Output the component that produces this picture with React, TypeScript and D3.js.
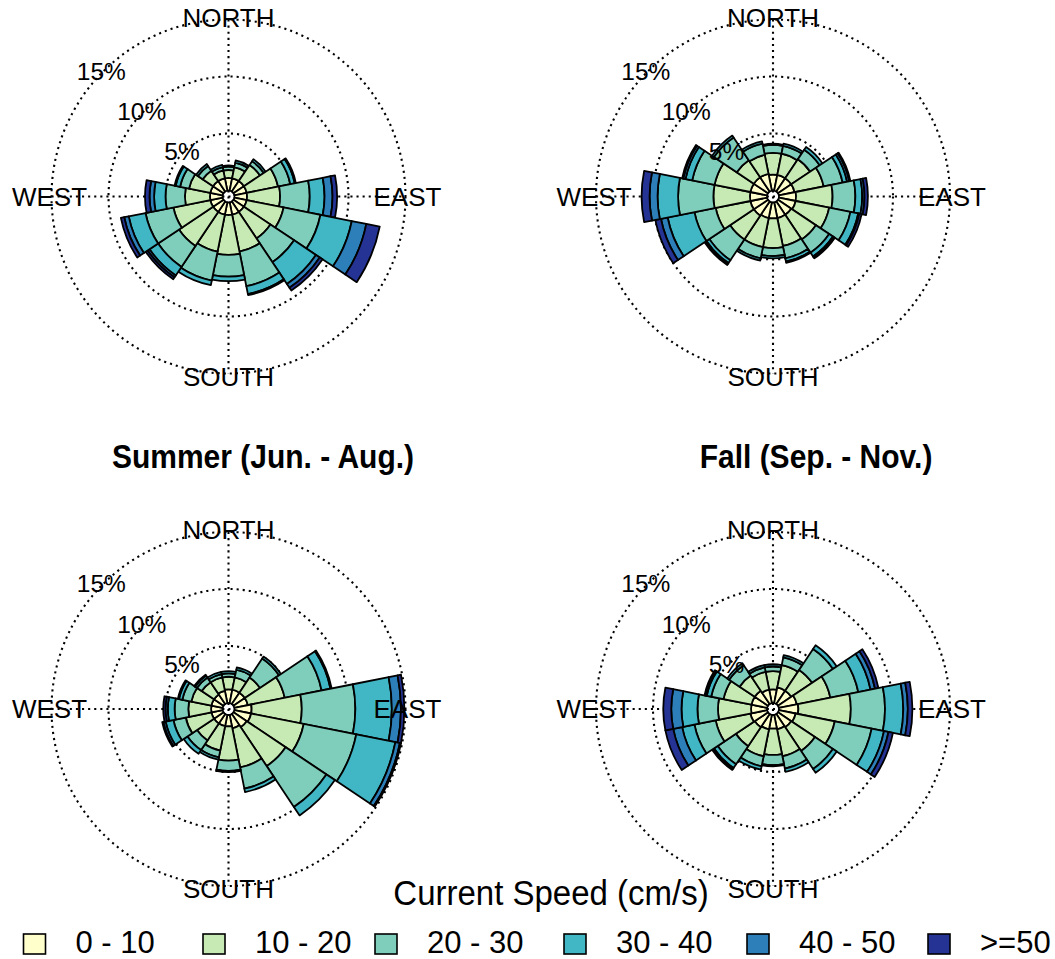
import * as d3 from "d3";

// 16 sectors, clockwise from north
const directions = [
  "N", "NNE", "NE", "ENE", "E", "ESE", "SE", "SSE",
  "S", "SSW", "SW", "WSW", "W", "WNW", "NW", "NNW",
];
const speedBins = ["0 - 10", "10 - 20", "20 - 30", "30 - 40", "40 - 50", ">=50"];
const binColors = ["#ffffcc", "#c7e9b4", "#7fcdbb", "#41b6c4", "#2c7fb8", "#253494"];
const ringTicks = [5, 10, 15];
const compassLabels = ["NORTH", "EAST", "SOUTH", "WEST"];

// frequency (%) per direction, one value per speed bin
const winterFreq = [
  [1.1, 0.7, 0.3, 0.1, 0, 0],
  [1.1, 1.0, 0.4, 0.2, 0, 0],
  [1.1, 1.7, 0.4, 0.2, 0, 0],
  [1.1, 2.8, 1.1, 0.4, 0.1, 0],
  [1.1, 2.9, 2.6, 1.3, 0.7, 0.4],
  [1.1, 3.3, 3.3, 2.8, 1.3, 1.2],
  [1.1, 2.8, 2.5, 2.3, 0.4, 0.3],
  [1.1, 3.3, 3.1, 0.7, 0.1, 0],
  [1.1, 3.5, 1.9, 0.4, 0, 0],
  [1.1, 3.3, 2.6, 0.4, 0, 0],
  [1.1, 3.6, 2.2, 0.9, 0.2, 0.2],
  [1.1, 3.3, 2.5, 1.5, 0.4, 0.3],
  [1.1, 2.2, 1.7, 1.0, 0.4, 0.4],
  [1.1, 1.9, 0.8, 0.4, 0.1, 0],
  [1.1, 1.1, 0.5, 0.2, 0, 0],
  [1.1, 0.7, 0.3, 0.2, 0, 0],
];

const springFreq = [
  [1.4, 1.9, 0.7, 0.1, 0, 0],
  [1.4, 1.9, 0.7, 0.2, 0, 0],
  [1.4, 2.0, 1.0, 0.3, 0, 0],
  [1.4, 2.6, 1.7, 0.4, 0.2, 0.1],
  [1.5, 3.2, 2.0, 0.6, 0.2, 0.3],
  [1.5, 3.0, 1.9, 0.7, 0.1, 0.2],
  [1.4, 2.6, 1.4, 0.4, 0.1, 0.1],
  [1.4, 2.5, 1.1, 0.3, 0.1, 0],
  [1.4, 2.6, 0.7, 0.2, 0, 0],
  [1.4, 2.6, 1.0, 0.2, 0, 0],
  [1.5, 2.5, 2.2, 0.3, 0.1, 0.1],
  [1.5, 3.1, 1.9, 2.4, 0.6, 0.5],
  [1.5, 3.2, 3.1, 1.8, 0.7, 0.7],
  [1.5, 3.2, 2.0, 0.6, 0.2, 0.1],
  [1.5, 1.8, 2.4, 0.2, 0, 0],
  [1.5, 1.7, 1.0, 0.2, 0, 0],
];

const summerFreq = [
  [1.2, 1.1, 0.3, 0.2, 0, 0],
  [1.2, 1.1, 0.7, 0.2, 0, 0],
  [1.2, 1.6, 2.0, 0.2, 0, 0],
  [1.2, 3.3, 3.3, 0.8, 0.1, 0],
  [1.5, 4.4, 4.7, 3.2, 0.8, 0.3],
  [1.5, 4.7, 4.7, 3.5, 0.4, 0.1],
  [1.4, 4.1, 4.3, 0.9, 0, 0],
  [1.2, 3.5, 1.9, 0.3, 0, 0],
  [1.0, 3.0, 0.9, 0.1, 0, 0],
  [1.0, 2.2, 0.6, 0.2, 0, 0],
  [1.0, 1.8, 1.0, 0.4, 0, 0],
  [1.0, 2.3, 1.1, 0.7, 0.2, 0.1],
  [1.0, 2.0, 1.2, 0.6, 0.2, 0.2],
  [1.0, 1.8, 0.8, 0.3, 0.1, 0],
  [1.0, 1.3, 0.5, 0.2, 0.1, 0],
  [1.1, 1.2, 0.3, 0.2, 0, 0],
];

const fallFreq = [
  [1.2, 1.6, 0.4, 0.2, 0, 0],
  [1.4, 2.0, 0.7, 0.2, 0, 0],
  [1.4, 2.2, 2.2, 0.4, 0, 0],
  [1.6, 3.0, 2.5, 1.1, 0.4, 0.3],
  [1.7, 4.6, 3.0, 1.6, 0.4, 0.4],
  [1.5, 3.5, 3.3, 1.1, 0.4, 0.4],
  [1.4, 2.5, 1.9, 0.4, 0, 0],
  [1.3, 2.4, 1.1, 0.3, 0, 0],
  [1.2, 2.3, 0.9, 0.1, 0, 0],
  [1.3, 2.4, 0.9, 0.3, 0, 0],
  [1.4, 2.0, 1.9, 0.4, 0.1, 0.1],
  [1.5, 3.1, 1.9, 1.1, 0.8, 0.7],
  [1.4, 2.9, 1.8, 1.4, 0.9, 0.7],
  [1.4, 2.5, 1.1, 0.4, 0.1, 0.1],
  [1.4, 1.6, 1.1, 0.2, 0, 0],
  [1.2, 1.6, 0.4, 0.2, 0, 0],
];

const panels = [
  { freq: winterFreq, cx: 228.5, cy: 196.5, title: "" },
  { freq: springFreq, cx: 773, cy: 196.5, title: "" },
  { freq: summerFreq, cx: 228.5, cy: 709, title: "Summer (Jun. - Aug.)", tx: 263 },
  { freq: fallFreq, cx: 773, cy: 709, title: "Fall (Sep. - Nov.)", tx: 816 },
];

const legendX = [23.5, 203, 375, 564, 747, 928];

const W = 1055;
const H = 959;
const font = "'Liberation Sans', Arial, Helvetica, sans-serif";
const dotted = { stroke: "#000", strokeWidth: 2.1, strokeDasharray: "2.1,4", fill: "none" };

const r = d3.scaleLinear().domain([0, 15]).range([6, 177]);
const step = (2 * Math.PI) / directions.length;
const arc = d3.arc<any>();

function Rose({ freq, cx, cy }: { freq: number[][]; cx: number; cy: number }) {
  const rMax = r(15);
  const wedges: any[] = [];
  freq.forEach((bins, i) => {
    const cum = Array.from(d3.cumsum(bins));
    bins.forEach((v, j) => {
      if (v <= 0) return;
      const inner = j === 0 ? 0 : cum[j - 1];
      wedges.push(
        <path
          key={`${i}-${j}`}
          d={arc({
            innerRadius: r(inner),
            outerRadius: r(cum[j]),
            startAngle: i * step - step / 2,
            endAngle: i * step + step / 2,
          })!}
          fill={binColors[j]}
          stroke="#000"
          strokeWidth={1.8}
          strokeLinejoin="round"
        />
      );
    });
  });

  const c45 = Math.SQRT1_2;
  const compassPos = [
    [0, -rMax - 2],
    [rMax + 2, 0],
    [0, rMax + 3],
    [-rMax - 2, 0],
  ];

  return (
    <g transform={`translate(${cx},${cy})`}>
      {ringTicks.map((t) => (
        <circle key={t} r={r(t)} {...dotted} />
      ))}
      <line x1={0} x2={0} y1={-rMax} y2={rMax} {...dotted} />
      <line x1={-rMax} x2={rMax} y1={0} y2={0} {...dotted} />
      {wedges}
      {ringTicks.map((t) => (
        <text
          key={t}
          x={-r(t) * c45 - 2}
          y={-r(t) * c45}
          textAnchor="middle"
          dominantBaseline="central"
          fontSize={24.5}
          fontFamily={font}
        >
          {t}%
        </text>
      ))}
      {compassLabels.map((lab, k) => (
        <text
          key={lab}
          x={compassPos[k][0]}
          y={compassPos[k][1]}
          textAnchor="middle"
          dominantBaseline="central"
          fontSize={26}
          fontFamily={font}
        >
          {lab}
        </text>
      ))}
    </g>
  );
}

export default function App() {
  return (
    <svg
      width={W}
      height={H}
      style={{ position: "absolute", left: 0, top: 0, background: "#fff" }}
    >
      <rect width={W} height={H} fill="#fff" />
      {panels.map((p, i) => (
        <g key={i}>
          <Rose freq={p.freq} cx={p.cx} cy={p.cy} />
          {p.title && (
            <text
              transform={`translate(${p.tx},456) scale(1,1.12)`}
              textAnchor="middle"
              dominantBaseline="central"
              fontSize={30}
              fontWeight="bold"
              fontFamily={font}
            >
              {p.title}
            </text>
          )}
        </g>
      ))}
      <text
        transform="translate(551,893) scale(1,1.08)"
        textAnchor="middle"
        dominantBaseline="central"
        fontSize={33}
        fontFamily={font}
      >
        Current Speed (cm/s)
      </text>
      {speedBins.map((lab, i) => (
        <g key={lab}>
          <rect
            x={legendX[i]}
            y={934}
            width={22}
            height={20}
            fill={binColors[i]}
            stroke="#000"
            strokeWidth={1.6}
          />
          <text
            x={legendX[i] + 52}
            y={942}
            dominantBaseline="central"
            fontSize={31}
            fontFamily={font}
          >
            {lab}
          </text>
        </g>
      ))}
    </svg>
  );
}
